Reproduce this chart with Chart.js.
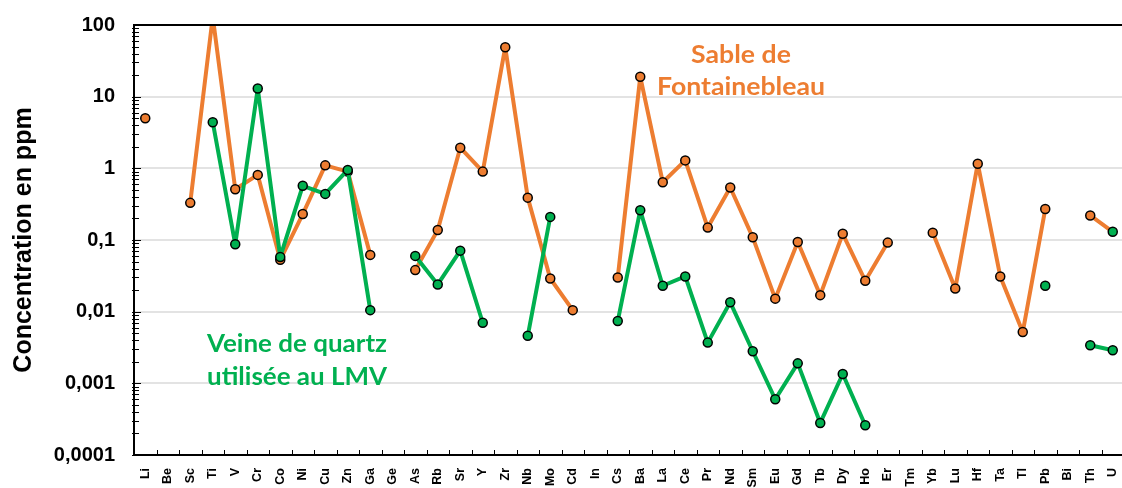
<!DOCTYPE html>
<html>
<head>
<meta charset="utf-8">
<script src="https://cdn.jsdelivr.net/npm/chart.js@4.4.1/dist/chart.umd.min.js"></script>
<style>
  html, body { margin: 0; padding: 0; background: #fff; overflow: hidden; }
  #wrap { width: 1122px; height: 488px; overflow: hidden; }
  #chart { display: block; }
</style>
</head>
<body>
<div id="wrap"><canvas id="chart" width="1130" height="488"></canvas></div>
<script>
// éléments (axe X)
const elements = ['Li','Be','Sc','Ti','V','Cr','Co','Ni','Cu','Zn','Ga','Ge','As','Rb','Sr','Y','Zr','Nb','Mo','Cd','In',
  'Cs','Ba','La','Ce','Pr','Nd','Sm','Eu','Gd','Tb','Dy','Ho','Er','Tm','Yb','Lu','Hf','Ta','Tl','Pb','Bi','Th','U'];

// Sable de Fontainebleau (ppm)
const sableFontainebleau = [5, null, 0.33, 130, 0.51, 0.81, 0.053, 0.23, 1.1, 0.9, 0.062, null, 0.038, 0.138, 1.94, 0.9,
  49, 0.39, 0.029, 0.0105, null, 0.03, 19, 0.64, 1.29, 0.149, 0.54, 0.109, 0.0152, 0.094, 0.017, 0.122, 0.027, 0.092,
  null, 0.126, 0.021, 1.16, 0.031, 0.0052, 0.27, null, 0.22, 0.13];

// Veine de quartz utilisée au LMV (ppm)
const veineQuartz = [null, null, null, 4.4, 0.087, 13, 0.058, 0.57, 0.44, 0.95, 0.0105, null, 0.06, 0.024, 0.071, 0.007,
  null, 0.0046, 0.21, null, null, 0.0074, 0.26, 0.023, 0.031, 0.0037, 0.0135, 0.0028, 0.0006, 0.0019, 0.00028, 0.00135,
  0.00026, null, null, null, null, null, null, null, 0.023, null, 0.0034, 0.0029];

const yTickValues = [0.0001, 0.001, 0.01, 0.1, 1, 10, 100];
const yTickLabels = ['0,0001', '0,001', '0,01', '0,1', '1', '10', '100'];

const orange = '#ED7D31';
const vert = '#00B050';

// dernier point orange affiché en vert (comme sur l'original)
const orangePointColors = sableFontainebleau.map((v, i) => i === sableFontainebleau.length - 1 ? vert : orange);

// petits traits d'axe + bordure haute + textes
const decorPlugin = {
  id: 'decor',
  afterDraw(chart) {
    const ctx = chart.ctx;
    const area = chart.chartArea;
    const y = chart.scales.y;
    ctx.save();
    ctx.strokeStyle = '#000';
    ctx.lineWidth = 1;
    // graduations mineures Y
    for (let d = 0.0001; d < 100; d *= 10) {
      for (let k = 1; k <= 9; k++) {
        const py = Math.round(y.getPixelForValue(k * d)) + 0.5;
        ctx.beginPath();
        ctx.moveTo(area.left - 2, py);
        ctx.lineTo(area.left + (k === 1 ? 7 : 5), py);
        ctx.stroke();
      }
    }
    // traits entre catégories
    const step = (area.right - area.left) / elements.length;
    for (let i = 1; i < elements.length; i++) {
      const px = Math.round(area.left + i * step) + 0.5;
      ctx.beginPath();
      ctx.moveTo(px, area.bottom);
      ctx.lineTo(px, area.bottom - 5);
      ctx.stroke();
    }
    // bordure haute
    ctx.lineWidth = 2;
    ctx.beginPath();
    ctx.moveTo(area.left, area.top);
    ctx.lineTo(area.right, area.top);
    ctx.stroke();

    // annotations
    ctx.font = 'bold 25px Lato';
    ctx.textBaseline = 'alphabetic';
    ctx.textAlign = 'center';
    const drawLines = (lines, cx, baselines, color, targetW) => {
      ctx.fillStyle = color;
      const sx = targetW / ctx.measureText(lines[1]).width;
      lines.forEach((t, i) => {
        ctx.save();
        ctx.translate(cx, baselines[i]);
        ctx.scale(sx, 1);
        ctx.fillText(t, 0, 0);
        ctx.restore();
      });
    };
    drawLines(['Sable de', 'Fontainebleau'], 741, [63, 95], orange, 168);
    drawLines(['Veine de quartz', 'utilisée au LMV'], 297, [352, 385], vert, 180);
    ctx.restore();
  }
};

new Chart(document.getElementById('chart'), {
  type: 'line',
  data: {
    labels: elements,
    datasets: [
      {
        label: 'Veine de quartz utilisée au LMV',
        data: veineQuartz,
        borderColor: vert,
        backgroundColor: vert,
        pointBackgroundColor: vert,
        borderWidth: 4,
        borderJoinStyle: 'round',
        pointRadius: 4.5,
        pointBorderColor: '#000',
        pointBorderWidth: 1.5,
        spanGaps: false
      },
      {
        label: 'Sable de Fontainebleau',
        data: sableFontainebleau,
        borderColor: orange,
        backgroundColor: orange,
        pointBackgroundColor: orangePointColors,
        borderWidth: 4,
        borderJoinStyle: 'round',
        pointRadius: 4.5,
        pointBorderColor: '#000',
        pointBorderWidth: 1.5,
        spanGaps: false
      }
    ]
  },
  options: {
    responsive: false,
    devicePixelRatio: 1,
    animation: false,
    layout: { padding: { top: 25, left: 0, right: -13, bottom: 0 } },
    plugins: { legend: { display: false }, tooltip: { enabled: false } },
    scales: {
      x: {
        type: 'category',
        offset: true,
        grid: { display: false, drawTicks: false },
        border: { display: true, color: '#000', width: 2 },
        ticks: {
          autoSkip: false,
          maxRotation: 90,
          minRotation: 90,
          padding: 13,
          color: '#000',
          font: { family: 'Liberation Sans', size: 12.5, weight: 'bold' }
        },
        afterFit(scale) {
          scale.height = 33;
          scale.paddingLeft = 0;
          scale.paddingRight = 0;
        }
      },
      y: {
        type: 'logarithmic',
        min: 0.0001,
        max: 100,
        afterBuildTicks(scale) {
          scale.ticks = yTickValues.map(v => ({ value: v }));
        },
        afterFit(scale) {
          scale.width = 134;
          scale.paddingTop = 0;
          scale.paddingBottom = 0;
        },
        grid: {
          drawTicks: false,
          lineWidth: 2,
          color: c => (c.tick && c.tick.value === 100) ? '#000' : (c.tick && c.tick.value === 0.0001 ? 'rgba(0,0,0,0)' : '#e3e3e3')
        },
        border: { display: true, color: '#000', width: 2 },
        ticks: {
          padding: 19,
          color: '#000',
          font: { family: 'Liberation Sans', size: 20, weight: 'bold' },
          callback: (v) => {
            const i = yTickValues.findIndex(t => Math.abs(t - v) / t < 1e-6);
            return i >= 0 ? yTickLabels[i] : '';
          }
        },
        title: {
          display: true,
          text: 'Concentration en ppm',
          color: '#000',
          padding: { top: 9, bottom: 0 },
          font: { family: 'Liberation Sans', size: 25, weight: 'bold' }
        }
      }
    }
  },
  plugins: [decorPlugin]
});
</script>
</body>
</html>
